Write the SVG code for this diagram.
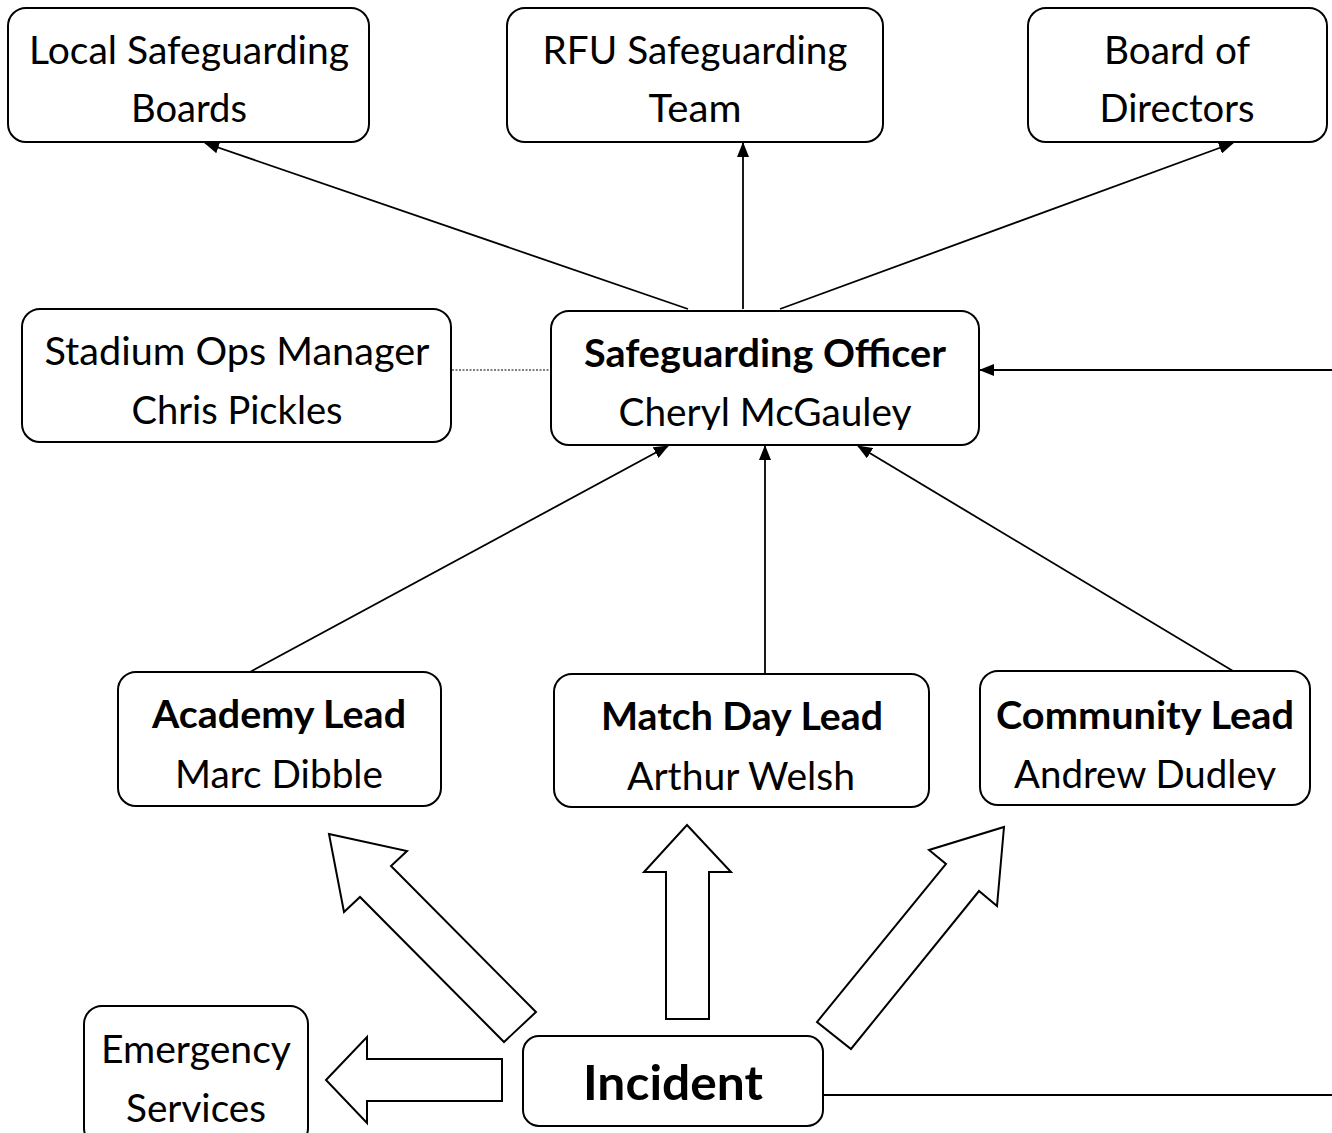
<svg xmlns="http://www.w3.org/2000/svg" width="1332" height="1133" viewBox="0 0 1332 1133">
<style>
.box{fill:#fff;stroke:#000;stroke-width:2}
.t{font-family:"Lato","Open Sans","Noto Sans",sans-serif;font-size:39px;fill:#000;text-anchor:middle}
.b{font-weight:bold}
.ln{stroke:#000;stroke-width:1.8;fill:none}
.blk{fill:#fff;stroke:#000;stroke-width:2;stroke-linejoin:miter}
</style>
<defs>
<marker id="ah" markerUnits="userSpaceOnUse" markerWidth="15" markerHeight="12" refX="14" refY="6" orient="auto">
<path d="M0,0 L15,6 L0,12 Z" fill="#000"/>
</marker>
<clipPath id="cSO"><rect x="540" y="300" width="450" height="130"/></clipPath>
<clipPath id="cMD"><rect x="540" y="660" width="400" height="133"/></clipPath>
<clipPath id="cCL"><rect x="970" y="660" width="350" height="130"/></clipPath>
</defs>
<rect width="1332" height="1133" fill="#fff"/>
<g id="connectors">
<line class="ln" x1="688" y1="309" x2="205" y2="143" marker-end="url(#ah)"/>
<line class="ln" x1="743" y1="309" x2="743" y2="143" marker-end="url(#ah)"/>
<line class="ln" x1="780" y1="309" x2="1233" y2="143" marker-end="url(#ah)"/>
<line x1="452" y1="370" x2="550" y2="370" stroke="#000" stroke-width="1.2" stroke-dasharray="2,1.5"/>
<line class="ln" x1="1332" y1="370" x2="980" y2="370" stroke-width="2" marker-end="url(#ah)"/>
<line class="ln" x1="250" y1="672" x2="668" y2="446" marker-end="url(#ah)"/>
<line class="ln" x1="765" y1="673" x2="765" y2="446" marker-end="url(#ah)"/>
<line class="ln" x1="1233" y1="671" x2="858" y2="446" marker-end="url(#ah)"/>
<line class="ln" x1="823" y1="1095" x2="1332" y2="1095"/>
<polygon class="blk" points="329,834 407,851 391,866 536,1012 504,1042 360,897 344,912"/>
<polygon class="blk" points="687,825 731,872 709,872 709,1019 666,1019 666,872 644,872"/>
<polygon class="blk" points="1004,827 997,906 979,891 851,1049 817,1022 946,864 929,850"/>
<polygon class="blk" points="326,1080 367,1037 367,1059 502,1059 502,1101 367,1101 367,1123"/>
</g>
<g id="local-safeguarding-boards">
<rect class="box" x="8" y="8" width="361" height="134" rx="18"/>
<text class="t" x="189" y="64" textLength="320" lengthAdjust="spacingAndGlyphs">Local Safeguarding</text>
<text class="t" x="189" y="122" textLength="116" lengthAdjust="spacingAndGlyphs">Boards</text>
</g>
<g id="rfu-safeguarding-team">
<rect class="box" x="507" y="8" width="376" height="134" rx="18"/>
<text class="t" x="695" y="64" textLength="305" lengthAdjust="spacingAndGlyphs">RFU Safeguarding</text>
<text class="t" x="695" y="122" textLength="93" lengthAdjust="spacingAndGlyphs">Team</text>
</g>
<g id="board-of-directors">
<rect class="box" x="1028" y="8" width="299" height="134" rx="18"/>
<text class="t" x="1177" y="64" textLength="146" lengthAdjust="spacingAndGlyphs">Board of</text>
<text class="t" x="1177" y="122" textLength="155" lengthAdjust="spacingAndGlyphs">Directors</text>
</g>
<g id="stadium-ops-manager">
<rect class="box" x="22" y="309" width="429" height="133" rx="18"/>
<text class="t" x="237" y="365" textLength="385" lengthAdjust="spacingAndGlyphs">Stadium Ops Manager</text>
<text class="t" x="237" y="424" textLength="211" lengthAdjust="spacingAndGlyphs">Chris Pickles</text>
</g>
<g id="safeguarding-officer">
<rect class="box" x="551" y="311" width="428" height="134" rx="18"/>
<text class="t b" x="765" y="367" textLength="362" lengthAdjust="spacingAndGlyphs">Safeguarding Officer</text>
<text class="t" x="765" y="426" textLength="293" lengthAdjust="spacingAndGlyphs" clip-path="url(#cSO)">Cheryl McGauley</text>
</g>
<g id="academy-lead">
<rect class="box" x="118" y="672" width="323" height="134" rx="18"/>
<text class="t b" x="279" y="728" textLength="254" lengthAdjust="spacingAndGlyphs">Academy Lead</text>
<text class="t" x="279" y="788" textLength="208" lengthAdjust="spacingAndGlyphs">Marc Dibble</text>
</g>
<g id="match-day-lead">
<rect class="box" x="554" y="674" width="375" height="133" rx="18"/>
<text class="t b" x="742" y="730" textLength="282" lengthAdjust="spacingAndGlyphs">Match Day Lead</text>
<text class="t" x="741" y="790" textLength="228" lengthAdjust="spacingAndGlyphs" clip-path="url(#cMD)">Arthur Welsh</text>
</g>
<g id="community-lead">
<rect class="box" x="980" y="671" width="330" height="134" rx="18"/>
<text class="t b" x="1145" y="729" textLength="298" lengthAdjust="spacingAndGlyphs">Community Lead</text>
<text class="t" x="1145" y="788" textLength="262" lengthAdjust="spacingAndGlyphs" clip-path="url(#cCL)">Andrew Dudley</text>
</g>
<g id="emergency-services">
<rect class="box" x="84" y="1006" width="224" height="140" rx="18"/>
<text class="t" x="196" y="1063" textLength="190" lengthAdjust="spacingAndGlyphs">Emergency</text>
<text class="t" x="196" y="1122" textLength="140" lengthAdjust="spacingAndGlyphs">Services</text>
</g>
<g id="incident">
<rect class="box" x="523" y="1036" width="300" height="90" rx="16"/>
<text class="t b" x="673" y="1100" style="font-size:47px" textLength="180" lengthAdjust="spacingAndGlyphs">Incident</text>
</g>
</svg>
